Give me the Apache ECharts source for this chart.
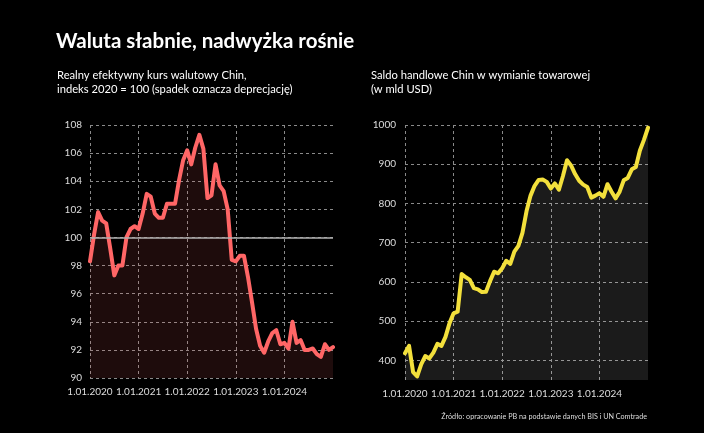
<!DOCTYPE html>
<html><head><meta charset="utf-8">
<script src="https://cdn.jsdelivr.net/npm/echarts@6/dist/echarts.min.js"></script>
<style>html,body{margin:0;padding:0;background:#000;}#c{width:704px;height:433px;}</style>
</head><body><div id="c"></div>
<script>
// Monthly categories Jan 2020 .. Jan 2025
const months = [];
for (let y = 2020; y <= 2025; y++) for (let m = 1; m <= 12; m++) { if (y === 2025 && m > 1) break; months.push(y + '-' + String(m).padStart(2, '0')); }

const reerValues = [98.3,100.2,101.8,101.2,101.0,99.2,97.3,98.0,98.0,100.0,100.6,100.8,
  100.6,101.7,103.1,102.9,101.7,101.4,101.4,102.4,102.4,102.4,104.1,105.5,
  106.2,105.2,106.4,107.3,106.3,102.8,103.0,105.2,103.7,103.3,102.0,98.4,
  98.3,98.7,98.7,97.2,95.4,93.5,92.3,91.8,92.6,93.2,93.4,92.4,
  92.5,92.1,94.0,92.5,92.7,92.0,92.0,92.1,91.7,91.5,92.4,92.0,
  92.2];
const tradeValues = [418,437,370,359,390,411,405,420,442,437,460,495,
  520,524,620,612,605,584,581,574,575,602,626,622,
  635,654,646,677,692,725,780,820,845,860,861,855,
  838,851,835,870,910,897,875,858,848,842,815,820,
  826,817,849,830,813,830,859,865,887,893,935,962,
  993];
const tradeTicks = [400,500,600,700,800,900,1000];
const referenceLevel = 100;

const FONT = 'Lato';
const gridLine = { show: true, lineStyle: { color: '#8a8a8a', type: [3, 3], width: 1 } };
const yearIdx = (i) => i % 12 === 0 && i < 60;
function xAxis(gridIndex) {
  return {
    type: 'category', gridIndex, data: months, boundaryGap: false,
    axisLine: { show: false }, axisTick: { show: false },
    axisLabel: { interval: (i) => yearIdx(i), hideOverlap: false, showMinLabel: true, showMaxLabel: true,
      color: '#dddddd', fontFamily: FONT, fontSize: 10, margin: 9,
      formatter: (v) => '1.01.' + v.slice(0, 4) },
    splitLine: { show: true, interval: (i) => yearIdx(i), lineStyle: { color: '#8a8a8a', type: [3, 3], width: 1 } }
  };
}

const chart = echarts.init(document.getElementById('c'));
chart.setOption({
  backgroundColor: '#000000',
  animation: false,
  title: [
    { text: 'Waluta słabnie, nadwyżka rośnie', left: 56, top: 31, padding: 0,
      textStyle: { color: '#ffffff', fontFamily: FONT, fontWeight: 'bold', fontSize: 20.5 } },
    { text: 'Realny efektywny kurs walutowy Chin,\nindeks 2020 = 100 (spadek oznacza deprecjację)', left: 57, top: 68, padding: 0,
      textStyle: { color: '#ffffff', fontFamily: FONT, fontWeight: 'normal', fontSize: 11.2, lineHeight: 14 } },
    { text: 'Saldo handlowe Chin w wymianie towarowej\n(w mld USD)', left: 371, top: 68, padding: 0,
      textStyle: { color: '#ffffff', fontFamily: FONT, fontWeight: 'normal', fontSize: 11.2, lineHeight: 14 } }
  ],
  graphic: [
    { type: 'text', right: 57, top: 413,
      style: { text: 'Źródło: opracowanie PB na podstawie danych BIS i UN Comtrade', fill: '#dddddd', font: '7.2px Lato' } }
  ],
  grid: [
    { left: 90, right: 371, top: 125, bottom: 55 },
    { left: 405, right: 56, top: 125, bottom: 53 }
  ],
  xAxis: [xAxis(0), xAxis(1)],
  yAxis: [
    { type: 'value', gridIndex: 0, min: 90, max: 108, interval: 2,
      axisLine: { show: false }, axisTick: { show: false },
      axisLabel: { color: '#dddddd', fontFamily: FONT, fontSize: 10, margin: 8 },
      splitLine: gridLine },
    { type: 'value', gridIndex: 1, min: 350, max: 1000, interval: 50,
      axisLine: { show: false }, axisTick: { show: false, customValues: tradeTicks },
      axisLabel: { color: '#dddddd', fontFamily: FONT, fontSize: 10, margin: 9, customValues: tradeTicks,
        formatter: (v) => String(v) },
      splitLine: gridLine }
  ],
  series: [
    { type: 'line', xAxisIndex: 0, yAxisIndex: 0, data: reerValues, symbol: 'none',
      lineStyle: { color: '#ff6666', width: 4, join: 'round', cap: 'round' },
      areaStyle: { color: 'rgba(255,100,100,0.17)', origin: 'start' },
      markLine: { silent: true, symbol: 'none', label: { show: false },
        lineStyle: { color: '#b0b0b0', type: 'solid', width: 1.5 }, data: [{ yAxis: referenceLevel }] },
      z: 3 },
    { type: 'line', xAxisIndex: 1, yAxisIndex: 1, data: tradeValues, symbol: 'none',
      lineStyle: { color: '#f3e03c', width: 4, join: 'round', cap: 'round' },
      areaStyle: { color: 'rgba(255,255,255,0.15)', origin: 'start' } }
  ]
});
</script></body></html>
